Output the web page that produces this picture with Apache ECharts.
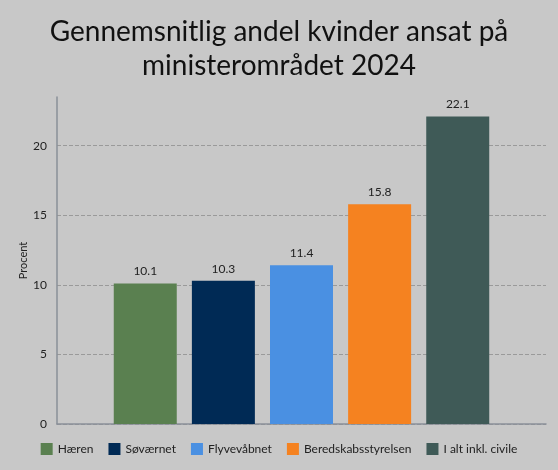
<!DOCTYPE html>
<html>
<head>
<meta charset="utf-8">
<title>Kvinder ansat</title>
<script src="https://cdn.jsdelivr.net/npm/echarts@6/dist/echarts.min.js"></script>
<style>
html, body { margin: 0; padding: 0; background: #c8c8c8; }
#chart { width: 558px; height: 470px; }
</style>
</head>
<body>
<div id="chart"></div>
<script>
// data
var names = ['Hæren', 'Søværnet', 'Flyvevåbnet', 'Beredskabsstyrelsen', 'I alt inkl. civile'];
var values = [10.1, 10.3, 11.4, 15.8, 22.1];
var colors = ['#5a8050', '#002a55', '#4a90e2', '#f58220', '#3f5a57'];

var myChart = echarts.init(document.getElementById('chart'));

var series = [];
for (var i = 0; i < names.length; i++) {
    series.push({
        name: names[i],
        type: 'bar',
        data: [values[i]],
        barWidth: 63,
        barGap: '24%',
        itemStyle: { color: colors[i] },
        label: {
            show: true,
            position: 'top',
            distance: 6,
            color: '#222',
            fontSize: 12,
            fontFamily: 'Lato'
        }
    });
}

var option = {
    backgroundColor: '#c8c8c8',
    textStyle: { fontFamily: 'Lato' },
    title: {
        text: 'Gennemsnitlig andel kvinder ansat på\nministerområdet 2024',
        left: 'center',
        top: 10,
        textStyle: { fontFamily: 'Lato', fontSize: 28, fontWeight: 'normal', color: '#111', lineHeight: 34 }
    },
    legend: {
        bottom: 10,
        left: 'center',
        itemWidth: 12,
        itemHeight: 12,
        itemGap: 15,
        icon: 'rect',
        textStyle: { fontFamily: 'Lato', fontSize: 12, color: '#222' },
        data: names
    },
    grid: { left: 57, right: 12, top: 97, bottom: 46, containLabel: false },
    xAxis: {
        type: 'category',
        data: [''],
        axisLine: { lineStyle: { color: '#8a9099', width: 1.5 } },
        axisTick: { show: false },
        axisLabel: { show: false }
    },
    yAxis: {
        type: 'value',
        min: 0,
        max: 23.5,
        interval: 5,
        name: 'Procent',
        nameLocation: 'middle',
        nameGap: 28,
        nameMoveOverlap: false,
        nameTextStyle: { fontFamily: 'Lato', fontSize: 11, color: '#222' },
        axisLine: { show: true, lineStyle: { color: '#8a9099', width: 1.5 } },
        axisTick: { show: false },
        axisLabel: {
            color: '#222', fontSize: 12, margin: 10,
            showMaxLabel: false
        },
        splitLine: {
            showMaxLine: false,
            lineStyle: { type: 'dashed', color: '#9a9a9a' }
        }
    },
    series: series
};

myChart.setOption(option);
</script>
</body>
</html>
